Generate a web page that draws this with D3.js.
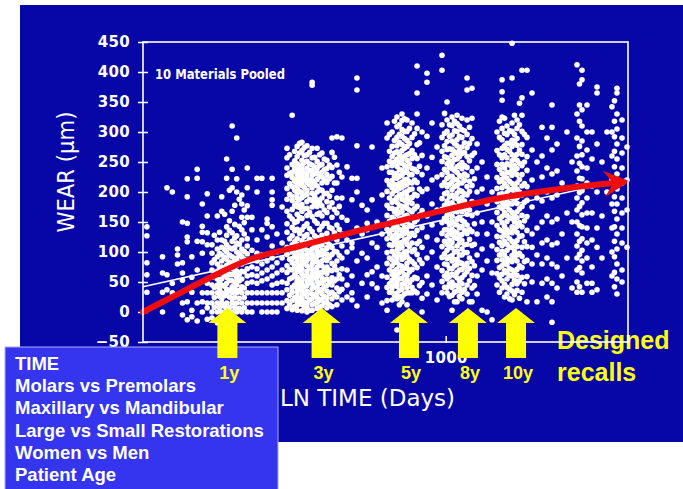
<!DOCTYPE html>
<html>
<head>
<meta charset="utf-8">
<script src="https://cdn.jsdelivr.net/npm/d3@7"></script>
<style>
  html, body { margin: 0; padding: 0; background: #ffffff; }
  svg { display: block; }
</style>
</head>
<body>
<svg id="chart" width="683" height="489"></svg>
<script>
// Wear measurements (µm) grouped by follow-up time (days since placement).
// Each *Days entry is one follow-up time; the matching *Wear entry lists the readings at it.
const earlyDays = [103, 116, 120, 125, 130, 135, 140, 145, 151, 157, 163, 169, 172, 176, 179, 182, 186,
  189, 193, 197, 201, 204, 208, 212, 216, 221, 229, 238, 247, 257, 267, 277, 288];
const earlyWear = [
  [142, 127, 82, 62, 33],
  [92, 65, 33, 0],
  [207, 62, 37],
  [200, 48, 32],
  [105, 95, 80],
  [150, 82, 65, 53, 15, -5],
  [222, 192, 148, 125, 117, 17, -13],
  [92, 58, 33, 3, -8],
  [238, 223, 118, 70, 15, -15],
  [180, 143, 133, 117, 98, 32, 17, 0],
  [197, 160, 132, 112, 48, 32, 15, 7, -12],
  [112, 98, 82, 70, 58, 45, 32, 15, 0, -10],
  [128, 87, 63, 41, 24, 8],
  [160, 120, 105, 92, 80, 68, 55, 45, 32, 15, 0, -18],
  [133, 98, 74, 51, 38, 26, 8],
  [192, 168, 120, 108, 95, 85, 75, 65, 55, 45, 32, 22, 15, 0],
  [163, 118, 104, 91, 70, 61, 43, 27, 9],
  [255, 223, 142, 128, 112, 100, 88, 78, 68, 58, 48, 38, 32, 15, 5, 0],
  [203, 152, 136, 107, 95, 83, 63, 53, 36, 25, 8, -7],
  [310, 238, 207, 168, 132, 118, 105, 92, 82, 72, 62, 52, 42, 32, 22, 15, 0],
  [178, 146, 124, 108, 86, 75, 65, 50, 38, 24, 8],
  [290, 222, 200, 127, 115, 100, 90, 78, 68, 58, 45, 32, 15, 0],
  [188, 143, 113, 97, 83, 63, 52, 36, 23, 6],
  [195, 180, 158, 137, 120, 105, 92, 80, 68, 55, 42, 32, 15, 0],
  [170, 149, 130, 101, 88, 67, 40, 24, 7],
  [240, 207, 177, 158, 122, 110, 97, 85, 72, 60, 48, 32, 15, 0],
  [158, 137, 103, 88, 75, 62, 50, 32, 15, 0],
  [223, 200, 120, 98, 85, 72, 60, 48, 32, 15],
  [223, 137, 95, 80, 65, 52, 32, 15, 0],
  [155, 148, 125, 85, 70, 55, 32, 15, 0],
  [223, 200, 187, 178, 142, 110, 90, 75, 60, 45, 32, 15, 0],
  [130, 100, 82, 65, 48, 32, 15, 0],
  [175, 115, 90, 70, 50, 32, 15]
];

const threeYearDays = [299, 305, 311, 317, 323, 329, 335, 341, 348, 355, 362, 369, 376, 383, 390, 397,
  405, 413, 421, 429, 437, 445, 454, 472, 490, 509, 529, 550, 571, 593, 616];
const threeYearWear = [
  [273, 257, 240, 228, 206, 188, 168, 147, 133, 108, 96, 77, 66, 48, 37, 19, 6],
  [262, 231, 214, 196, 160, 122, 88, 71, 55, 28, 12],
  [328, 246, 233, 224, 209, 193, 186, 171, 155, 141, 127, 112, 101, 89, 82, 70, 57, 41, 33, 19, 4],
  [268, 252, 239, 218, 203, 178, 149, 136, 117, 93, 76, 62, 45, 24, 9],
  [276, 259, 247, 236, 229, 221, 212, 206, 197, 190, 182, 176, 163, 151, 138, 122, 113, 99, 91, 84, 73, 67, 58, 51, 40, 34, 26, 17, 11, 3],
  [281, 265, 243, 234, 225, 214, 201, 188, 174, 158, 131, 104, 94, 78, 69, 53, 46, 37, 22, 14],
  [283, 269, 253, 244, 238, 227, 218, 211, 199, 191, 179, 168, 156, 137, 119, 106, 98, 87, 79, 71, 63, 54, 47, 38, 29, 21, 13, 2],
  [274, 261, 249, 232, 223, 208, 194, 172, 143, 126, 110, 93, 82, 60, 43, 31, 16, 7],
  [277, 262, 251, 240, 231, 224, 216, 203, 196, 184, 173, 161, 147, 129, 116, 103, 95, 86, 77, 68, 61, 52, 44, 35, 25, 15, 8, 0],
  [266, 247, 236, 220, 212, 188, 166, 139, 121, 100, 90, 73, 57, 49, 32, 20, 3],
  [383, 378, 273, 257, 245, 236, 228, 219, 207, 198, 186, 175, 159, 134, 118, 105, 97, 88, 80, 72, 64, 55, 47, 39, 30, 22, 12, 3],
  [258, 242, 230, 214, 193, 181, 152, 127, 111, 92, 84, 66, 58, 41, 27, 14],
  [273, 251, 239, 232, 221, 210, 200, 187, 176, 163, 148, 124, 109, 101, 93, 84, 75, 68, 59, 51, 42, 33, 24, 16, 6],
  [262, 244, 226, 204, 183, 165, 137, 115, 96, 79, 63, 48, 36, 19, 8],
  [265, 246, 233, 225, 215, 203, 190, 177, 160, 143, 128, 113, 103, 95, 85, 77, 66, 57, 49, 38, 30, 21, 10, 0],
  [255, 237, 221, 197, 170, 148, 119, 99, 88, 70, 53, 43, 26, 15],
  [253, 239, 229, 216, 198, 184, 166, 148, 131, 117, 106, 96, 86, 75, 64, 55, 44, 35, 24, 16, 7],
  [245, 222, 193, 175, 141, 112, 91, 70, 50, 31, 12],
  [290, 266, 241, 226, 203, 182, 158, 139, 124, 108, 96, 81, 69, 57, 45, 33, 22, 9],
  [258, 215, 171, 132, 101, 77, 52, 29],
  [292, 245, 215, 190, 165, 145, 120, 100, 85, 70, 55, 40, 25, 12],
  [233, 176, 138, 94, 62, 34],
  [290, 225, 190, 158, 130, 110, 90, 72, 55, 38, 20],
  [242, 153, 120, 100, 70, 45, 25],
  [223, 187, 115, 107, 60, 32, 20],
  [390, 370, 277, 223, 200, 140, 85, 10],
  [178, 130, 98, 48],
  [170, 148, 137, 90, 62, 25],
  [275, 187, 115, 67, 47],
  [150, 108, 75, 40],
  [240, 195, 130, 60, 15]
];

const fiveYearDays = [640, 652, 665, 677, 690, 703, 717, 731, 745, 759, 774, 789, 804, 819, 835, 867, 901, 936];
const fiveYearWear = [
  [315, 290, 242, 219, 201, 178, 161, 138, 122, 99, 81, 58, 41, 19, 3],
  [296, 268, 251, 233, 212, 190, 173, 151, 130, 112, 90, 70, 47, 33],
  [300, 276, 259, 244, 233, 219, 207, 197, 183, 173, 158, 147, 137, 123, 111, 101, 87, 77, 63, 53, 40, 33, 20],
  [318, 286, 265, 250, 226, 213, 202, 186, 167, 154, 141, 128, 117, 95, 82, 68, 57, 45, 28],
  [325, 309, 291, 277, 267, 255, 243, 231, 223, 211, 203, 191, 183, 171, 163, 151, 143, 131, 123, 111, 103, 91, 83, 71, 61, 50, 43, 31, 22, -30],
  [312, 296, 283, 262, 249, 238, 226, 214, 206, 195, 178, 165, 155, 138, 127, 115, 106, 96, 78, 66, 55, 36, 25, 12],
  [330, 319, 304, 293, 279, 269, 256, 248, 236, 228, 216, 208, 196, 188, 176, 168, 156, 148, 136, 128, 116, 108, 96, 88, 76, 68, 56, 46, 38, 26, 17],
  [322, 301, 289, 273, 260, 244, 233, 220, 211, 199, 186, 175, 160, 150, 141, 131, 120, 100, 91, 73, 62, 48, 30],
  [320, 301, 286, 276, 262, 253, 241, 233, 221, 213, 201, 193, 181, 173, 161, 153, 141, 133, 121, 113, 101, 93, 81, 73, 61, 53, 41, 32, 12],
  [306, 281, 264, 247, 229, 217, 204, 188, 170, 157, 145, 126, 109, 88, 67, 49, 32],
  [315, 291, 269, 256, 239, 229, 215, 205, 191, 181, 167, 157, 143, 131, 115, 101, 84, 71, 54, 41, 32],
  [297, 262, 238, 220, 196, 172, 150, 128, 104, 80, 58, 35],
  [410, 365, 330, 306, 279, 256, 234, 216, 194, 176, 154, 136, 114, 96, 74, 56, 32],
  [282, 243, 205, 162, 118, 87, 44],
  [300, 261, 229, 201, 169, 141, 108, 81, 49, 23, 0],
  [398, 383, 293, 240, 205, 160, 125, 90, 60, 30],
  [315, 258, 220, 180, 145, 100, 45],
  [275, 225, 170, 120, 75, 20]
];

const eightYearDays = [972, 991, 1010, 1029, 1049, 1069, 1090, 1110, 1131, 1153, 1176, 1198, 1221, 1244, 1269, 1318, 1369, 1422];
const eightYearWear = [
  [428, 403, 312, 291, 268, 251, 229, 211, 189, 171, 149, 131, 109, 91, 69, 51, 32],
  [331, 298, 277, 259, 238, 216, 197, 178, 156, 137, 118, 97, 80, 60, 41],
  [350, 320, 301, 284, 271, 257, 247, 233, 223, 209, 199, 185, 175, 161, 151, 137, 127, 113, 103, 89, 79, 65, 55, 41, 32],
  [312, 293, 272, 252, 241, 226, 213, 192, 180, 166, 145, 132, 120, 108, 92, 73, 59, 47, 26],
  [325, 311, 295, 285, 271, 261, 248, 239, 226, 217, 204, 195, 182, 173, 160, 151, 138, 129, 116, 107, 94, 85, 72, 63, 50, 41, 28, 3],
  [318, 302, 281, 267, 254, 236, 221, 209, 190, 177, 168, 146, 134, 124, 100, 87, 77, 61, 45, 33, 17],
  [328, 314, 301, 287, 277, 264, 255, 242, 233, 220, 211, 198, 189, 176, 167, 154, 145, 132, 123, 110, 101, 88, 79, 66, 57, 44, 35, 17],
  [310, 293, 270, 259, 245, 228, 215, 203, 184, 171, 158, 140, 126, 115, 95, 83, 70, 52, 39, 26],
  [323, 304, 291, 275, 264, 249, 239, 225, 215, 201, 191, 177, 167, 153, 143, 129, 119, 105, 95, 81, 71, 57, 47, 33, 22],
  [302, 282, 266, 244, 230, 219, 197, 185, 171, 150, 136, 112, 99, 75, 62, 38],
  [390, 370, 320, 296, 274, 259, 241, 227, 209, 195, 177, 163, 145, 131, 113, 99, 81, 67, 45, 30],
  [308, 281, 252, 218, 201, 170, 138, 121, 90, 73, 52, 17],
  [373, 323, 289, 261, 234, 211, 184, 161, 134, 111, 84, 61, 40, 17],
  [265, 222, 182, 147, 113, 77, 44],
  [280, 240, 200, 165, 130, 95, 60, 30],
  [250, 205, 150, 105, 70, 3],
  [225, 180, 130, 85, 0],
  [200, 150, 110, 65, -13]
];

const tenYearDays = [1477, 1505, 1535, 1564, 1594, 1625, 1656, 1687, 1720, 1752, 1786, 1820, 1855, 1928, 2002];
const tenYearWear = [
  [300, 269, 246, 224, 206, 184, 166, 144, 126, 104, 86, 64, 45],
  [318, 291, 262, 238, 217, 196, 175, 156, 137, 116, 95, 74, 57, 33],
  [387, 367, 353, 325, 306, 287, 273, 257, 246, 231, 221, 207, 197, 183, 173, 159, 149, 135, 125, 111, 101, 87, 77, 63, 52, 40],
  [323, 298, 277, 262, 240, 227, 214, 191, 178, 166, 143, 130, 118, 95, 82, 69, 46, 25],
  [310, 296, 281, 271, 257, 247, 233, 223, 209, 199, 185, 175, 161, 151, 137, 127, 113, 103, 89, 79, 65, 55, 41, 30],
  [302, 281, 268, 245, 232, 218, 204, 181, 170, 157, 134, 122, 108, 86, 72, 61, 38, 22],
  [448, 390, 315, 301, 286, 276, 262, 252, 238, 228, 214, 204, 190, 180, 166, 156, 142, 132, 118, 108, 94, 84, 70, 60, 46, 35, 20],
  [328, 296, 283, 257, 244, 235, 209, 197, 186, 160, 150, 138, 113, 101, 90, 64, 53, 29],
  [320, 306, 289, 278, 263, 253, 239, 229, 215, 205, 191, 181, 167, 157, 143, 133, 119, 109, 95, 85, 71, 61, 47, 36],
  [348, 312, 270, 248, 221, 200, 172, 149, 126, 98, 77, 52, 23],
  [403, 357, 328, 301, 279, 263, 244, 229, 210, 195, 176, 161, 142, 127, 108, 93, 74, 58, 33],
  [296, 250, 214, 183, 152, 117, 84, 47],
  [403, 291, 259, 236, 209, 186, 159, 136, 109, 86, 59, 17],
  [365, 270, 220, 175, 130, 108, 80, 50],
  [250, 190, 140, 95, 17]
];

const lateDays = [2080, 2160, 2244, 2331, 2422, 2515, 2613, 2714, 2766, 2819, 2928, 3042, 3160, 3282, 3409, 3541, 3609, 3678, 3822, 3970];
const lateWear = [
  [308, 260, 225, 185, 150, 115, 80, 48],
  [290, 240, 200, 160, 120, 90, 55, 25],
  [345, 308, 270, 230, 190, 150, 112, 80, 48, 17, -17],
  [280, 235, 195, 155, 115, 75, 40],
  [215, 130, 60],
  [300, 165, 90],
  [250, 150, 40],
  [412, 330, 290, 260, 235, 210, 190, 170, 150, 130, 110, 90, 70, 50, 33],
  [380, 345, 318, 276, 248, 223, 199, 176, 144, 118, 96, 74, 42],
  [403, 387, 337, 310, 285, 262, 242, 222, 202, 182, 162, 142, 122, 103, 85, 65, 33],
  [345, 300, 270, 240, 215, 190, 165, 140, 115, 90, 48],
  [300, 255, 210, 165, 120, 75, 48, 33],
  [375, 365, 280, 200, 140, 108, 37],
  [250, 160, 90],
  [300, 200],
  [342, 300, 260, 220, 180, 140, 100, 60],
  [352, 318, 292, 268, 242, 218, 192, 168, 142, 118, 92, 66, 42],
  [373, 365, 330, 305, 280, 255, 230, 205, 180, 155, 130, 105, 80, 55, 30],
  [320, 290, 265, 240, 215, 190, 165, 140, 115, 70, 50],
  [275, 220, 170, 108]
];

// Fitted line (ln time) and the hand-drawn trend arrow, in days / µm.
const fitDays = [100, 4000];
const fitWear = [42, 222];
const trendDays = [100, 127, 166, 226, 330, 483, 706, 1033, 1510, 2209, 3236, 4060];
const trendWear = [0, 27, 57, 88, 110, 132, 152, 172, 190, 203, 213, 218];

// Axis ticks.
const yTicks = [-50, 0, 50, 100, 150, 200, 250, 300, 350, 400, 450];
const xTicks = [1000];

// Recall markers.
const recallDays = [190, 389, 756, 1184, 1707];
const recallLabels = ["1y", "3y", "5y", "8y", "10y"];

// Factors listed in the side panel.
const factorLabels = [
  "TIME",
  "Molars vs Premolars",
  "Maxillary vs Mandibular",
  "Large vs Small Restorations",
  "Women vs Men",
  "Patient Age"
];

const svg = d3.select("#chart");
const plot = { left: 143, right: 628, top: 42, bottom: 342 };

const x = d3.scaleLog().domain([100, 4000]).range([plot.left, plot.right]);
const y = d3.scaleLinear().domain([-50, 450]).range([plot.bottom, plot.top]);

const chartFont = "'DejaVu Sans', Verdana, sans-serif";
const slideFont = "'Liberation Sans', Arial, Helvetica, sans-serif";

// Slide background
svg.append("rect")
  .attr("x", 20).attr("y", 5).attr("width", 663).attr("height", 437)
  .attr("fill", "#0707a7");

// Scatter points
const groups = [
  [earlyDays, earlyWear],
  [threeYearDays, threeYearWear],
  [fiveYearDays, fiveYearWear],
  [eightYearDays, eightYearWear],
  [tenYearDays, tenYearWear],
  [lateDays, lateWear]
];
const points = [];
groups.forEach(([days, wear]) =>
  days.forEach((d, i) => wear[i].forEach(w => points.push([d, w]))));
svg.append("g")
  .selectAll("circle")
  .data(points)
  .join("circle")
  .attr("cx", d => x(d[0]))
  .attr("cy", d => y(d[1]))
  .attr("r", 2.8)
  .attr("fill", "#ffffff");

// Y axis: ticks crossing the frame
const yAxis = svg.append("g")
  .attr("transform", `translate(${plot.left},0)`)
  .call(d3.axisLeft(y).tickValues(yTicks).tickSize(5).tickPadding(8)
    .tickFormat(d => d < 0 ? "\u2212" + Math.abs(d) : d));
yAxis.select(".domain").remove();
yAxis.selectAll(".tick line").attr("x1", 5).attr("x2", -5)
  .attr("stroke", "#ffffff").attr("stroke-width", 1.5);
yAxis.selectAll(".tick text")
  .attr("fill", "#ffffff")
  .attr("font-family", chartFont)
  .attr("font-weight", "bold")
  .attr("font-size", 15)
  .attr("letter-spacing", 0.3);

// X axis (log of days)
const xAxis = svg.append("g")
  .attr("transform", `translate(0,${plot.bottom})`)
  .call(d3.axisBottom(x).tickValues(xTicks).tickSize(0).tickPadding(10)
    .tickFormat(d3.format("d")));
xAxis.select(".domain").remove();
xAxis.selectAll(".tick line").attr("y1", -6).attr("y2", 1)
  .attr("stroke", "#ffffff").attr("stroke-width", 1.5);
xAxis.selectAll(".tick text")
  .attr("fill", "#ffffff")
  .attr("font-family", chartFont)
  .attr("font-weight", "bold")
  .attr("font-size", 15)
  .attr("letter-spacing", 0.3);

// Axis titles
svg.append("text")
  .attr("transform", "translate(66,172) rotate(-90)")
  .attr("text-anchor", "middle")
  .attr("dominant-baseline", "central")
  .attr("fill", "#ffffff")
  .attr("font-family", chartFont)
  .attr("font-size", 23)
  .attr("textLength", 121)
  .attr("lengthAdjust", "spacingAndGlyphs")
  .text("WEAR (\u03bcm)");

svg.append("text")
  .attr("x", 280).attr("y", 406)
  .attr("fill", "#ffffff")
  .attr("font-family", chartFont)
  .attr("font-size", 23)
  .attr("textLength", 175)
  .attr("lengthAdjust", "spacingAndGlyphs")
  .text("LN TIME (Days)");

svg.append("text")
  .attr("x", 155).attr("y", 79)
  .attr("fill", "#ffffff")
  .attr("font-family", chartFont)
  .attr("font-weight", "bold")
  .attr("font-size", 14)
  .attr("textLength", 130)
  .attr("lengthAdjust", "spacingAndGlyphs")
  .text("10 Materials Pooled");

// Fitted line
const line = d3.line().x(d => x(d[0])).y(d => y(d[1]));
svg.append("path")
  .datum(fitDays.map((d, i) => [d, fitWear[i]]))
  .attr("d", line)
  .attr("fill", "none")
  .attr("stroke", "#ffffff")
  .attr("stroke-width", 1.6);

// Trend arrow
const trendPts = trendDays.map((d, i) => [x(d), y(trendWear[i])]);
const tip = trendPts[trendPts.length - 1];
const prev = trendPts[trendPts.length - 2];
const len = Math.hypot(tip[0] - prev[0], tip[1] - prev[1]);
const ux = (tip[0] - prev[0]) / len, uy = (tip[1] - prev[1]) / len;
const nx = -uy, ny = ux;
const headLen = 26, headHalf = 13, notch = 9;
const notchPt = [tip[0] - ux * (headLen - notch), tip[1] - uy * (headLen - notch)];
svg.append("path")
  .datum(trendPts.slice(0, -1).concat([notchPt]))
  .attr("d", d3.line().curve(d3.curveCatmullRom))
  .attr("fill", "none")
  .attr("stroke", "#f20d0d")
  .attr("stroke-width", 6)
  .attr("stroke-linecap", "round");
const head = [
  tip,
  [tip[0] - ux * headLen + nx * headHalf, tip[1] - uy * headLen + ny * headHalf],
  notchPt,
  [tip[0] - ux * headLen - nx * headHalf, tip[1] - uy * headLen - ny * headHalf]
];
svg.append("path")
  .attr("d", "M" + head.map(p => p.join(",")).join("L") + "Z")
  .attr("fill", "#f20d0d");

// Yellow caption
svg.append("g")
  .attr("fill", "#ffff14")
  .attr("font-family", slideFont)
  .attr("font-weight", "bold")
  .attr("font-size", 25)
  .selectAll("text")
  .data(["Designed", "recalls"])
  .join("text")
  .attr("x", 557)
  .attr("y", (d, i) => 349 + i * 32)
  .text(d => d);

// Plot frame
svg.append("rect")
  .attr("x", plot.left).attr("y", plot.top)
  .attr("width", plot.right - plot.left).attr("height", plot.bottom - plot.top)
  .attr("fill", "none")
  .attr("stroke", "#ffffff")
  .attr("stroke-width", 1.6);

// Factor panel
svg.append("rect")
  .attr("x", 5).attr("y", 347).attr("width", 273).attr("height", 145)
  .attr("fill", "#3535ef")
  .attr("stroke", "#a9a9ff")
  .attr("stroke-width", 1);
svg.append("g")
  .attr("fill", "#ffffff")
  .attr("font-family", slideFont)
  .attr("font-weight", "bold")
  .attr("font-size", 18.5)
  .selectAll("text")
  .data(factorLabels)
  .join("text")
  .attr("x", 15)
  .attr("y", (d, i) => 370 + i * 22.2)
  .text(d => d);

// Recall arrows
const arrowTop = plot.bottom - 34, headBase = plot.bottom - 19, arrowBottom = plot.bottom + 16;
const recalls = svg.append("g");
recalls.selectAll("path")
  .data(recallDays)
  .join("path")
  .attr("d", d => {
    const cx = x(d);
    return `M${cx},${arrowTop}L${cx + 19},${headBase}L${cx + 10},${headBase}L${cx + 10},${arrowBottom}` +
      `L${cx - 10},${arrowBottom}L${cx - 10},${headBase}L${cx - 19},${headBase}Z`;
  })
  .attr("fill", "#ffff00");
recalls.selectAll("text")
  .data(recallDays)
  .join("text")
  .attr("x", d => x(d) + 2)
  .attr("y", 379)
  .attr("text-anchor", "middle")
  .attr("fill", "#ffff14")
  .attr("font-family", slideFont)
  .attr("font-weight", "bold")
  .attr("font-size", 18)
  .text((d, i) => recallLabels[i]);
</script>
</body>
</html>
